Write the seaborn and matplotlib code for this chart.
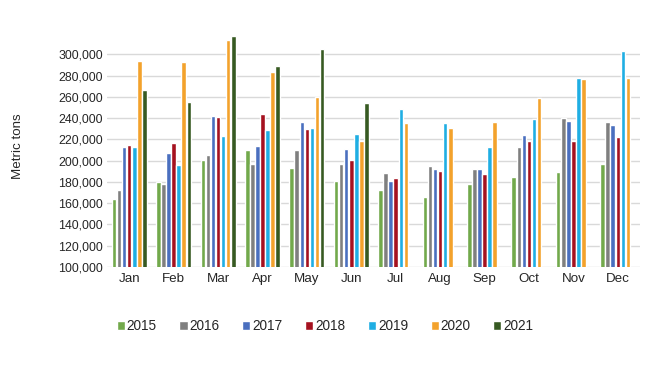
import pandas as pd
import matplotlib
matplotlib.use("Agg")
import matplotlib.pyplot as plt
import seaborn as sns

# monthly values, metric tons
months = ['Jan', 'Feb', 'Mar', 'Apr', 'May', 'Jun', 'Jul', 'Aug', 'Sep', 'Oct', 'Nov', 'Dec']
years = ['2015', '2016', '2017', '2018', '2019', '2020', '2021']
nan = float('nan')
v2015 = [164000, 180000, 200500, 210000, 193000, 181000, 172500, 166000, 178500, 184500, 189500, 197000]
v2016 = [172500, 178000, 205500, 197000, 210000, 197000, 188500, 195000, 192000, 212500, 240000, 236000]
v2017 = [213000, 207000, 242000, 214000, 236000, 211000, 180500, 192000, 192000, 224000, 237500, 233500]
v2018 = [214500, 216500, 241000, 244000, 229500, 200500, 183500, 190500, 187500, 218500, 218000, 222000]
v2019 = [212500, 196000, 223500, 229000, 230500, 225000, 248500, 235000, 213000, 239000, 278000, 303500]
v2020 = [293500, 293000, 313000, 283000, 260000, 218500, 235500, 230500, 236000, 258500, 276500, 277500]
v2021 = [266000, 255500, 317500, 289000, 305000, 254500, nan, nan, nan, nan, nan, nan]
colors = ['#72a94b', '#7f7f7f', '#4a6fbf', '#a5111f', '#1faee3', '#f3a22c', '#375a22']

series = [v2015, v2016, v2017, v2018, v2019, v2020, v2021]
rows = []
for y, vals in zip(years, series):
    for m, v in zip(months, vals):
        rows.append({'month': m, 'year': y, 'tons': v})
df = pd.DataFrame(rows)

sns.set_style('white')
plt.rcParams['font.family'] = ['Liberation Sans', 'DejaVu Sans']

fig = plt.figure(figsize=(6.5, 3.66), dpi=100)
ax = fig.add_axes([107 / 650, 1 - 267 / 366, 533 / 650, 234 / 366])

sns.barplot(data=df, x='month', y='tons', hue='year', order=months, hue_order=years,
            palette=colors, width=0.8, gap=0.1, saturation=1, ax=ax, zorder=3)

ax.set_ylim(100000, 320000)
ax.set_xlim(-0.5, 11.5)
ax.set_yticks(range(100000, 300001, 20000))
ax.set_yticklabels([f'{t:,}' for t in range(100000, 300001, 20000)], fontsize=8.9)
ax.tick_params(axis='x', labelsize=9.6, length=0, pad=4)
ax.tick_params(axis='y', length=0, pad=3)
ax.grid(axis='y', color='#d9d9d9', linewidth=1, zorder=0)
ax.set_axisbelow(True)
for s in ax.spines.values():
    s.set_visible(False)
ax.set_xlabel('')
ax.set_ylabel('')
fig.text(18 / 650, 1 - 146 / 366, 'Metric tons', rotation=90, ha='center', va='center', fontsize=9.6)

handles, labels = ax.get_legend_handles_labels()
ax.get_legend().remove()
fig.legend(handles, labels, loc='center', bbox_to_anchor=(325 / 650, 1 - 326 / 366), ncol=7,
           frameon=False, fontsize=9.8, handlelength=0.6, handleheight=0.6,
           handletextpad=0.15, columnspacing=1.65)

fig.savefig('out.png', dpi=100)
